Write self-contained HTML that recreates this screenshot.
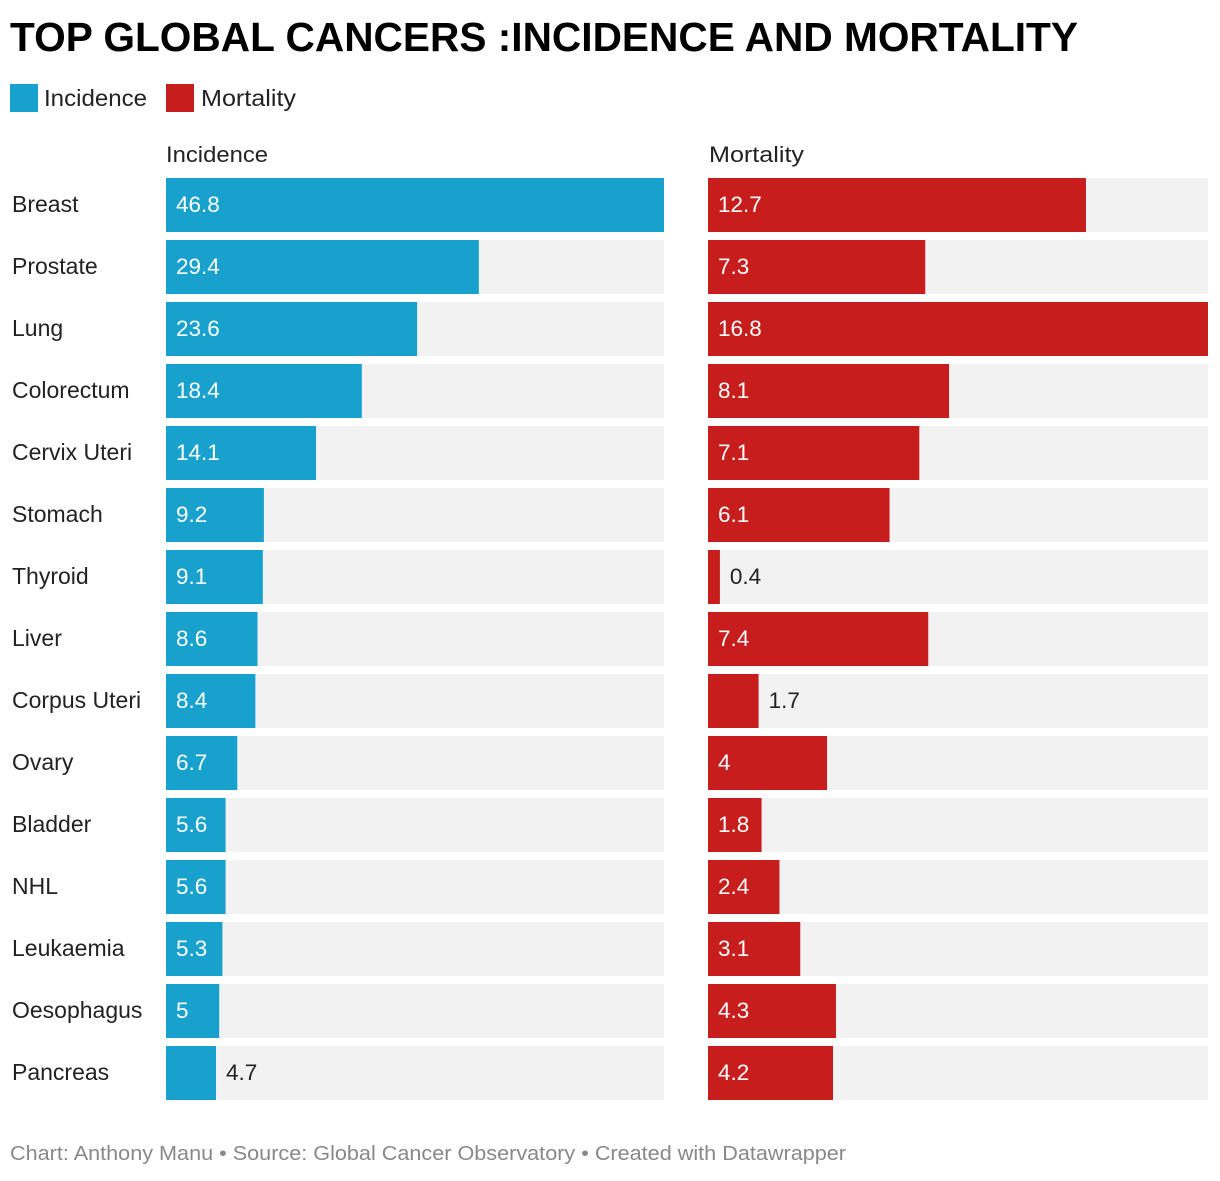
<!DOCTYPE html>
<html><head><meta charset="utf-8"><style>
body{margin:0;background:#fff;}
svg text{font-family:"Liberation Sans",sans-serif;}
</style></head><body>
<svg id="c" width="1220" height="1176" xmlns="http://www.w3.org/2000/svg">
<text x="10" y="51" font-size="41" font-weight="bold" fill="#000" textLength="1068" lengthAdjust="spacingAndGlyphs">TOP GLOBAL CANCERS :INCIDENCE AND MORTALITY</text>
<rect x="10" y="84" width="28" height="28" fill="#18a1cd"/>
<text x="44" y="106" font-size="23" fill="#222" textLength="103" lengthAdjust="spacingAndGlyphs">Incidence</text>
<rect x="166" y="84" width="28" height="28" fill="#c71e1d"/>
<text x="201" y="106" font-size="23" fill="#222" textLength="95" lengthAdjust="spacingAndGlyphs">Mortality</text>
<text x="166" y="162" font-size="22" fill="#222" textLength="102" lengthAdjust="spacingAndGlyphs">Incidence</text>
<text x="709" y="162" font-size="22" fill="#222" textLength="95" lengthAdjust="spacingAndGlyphs">Mortality</text>
<g id="rows"></g>
<text x="10" y="1160" font-size="20" fill="#888" textLength="836" lengthAdjust="spacingAndGlyphs">Chart: Anthony Manu • Source: Global Cancer Observatory • Created with Datawrapper</text>
</svg>
<script>
const categories=["Breast","Prostate","Lung","Colorectum","Cervix Uteri","Stomach","Thyroid","Liver","Corpus Uteri","Ovary","Bladder","NHL","Leukaemia","Oesophagus","Pancreas"];
const incidence=[46.8,29.4,23.6,18.4,14.1,9.2,9.1,8.6,8.4,6.7,5.6,5.6,5.3,5,4.7];
const mortality=[12.7,7.3,16.8,8.1,7.1,6.1,0.4,7.4,1.7,4,1.8,2.4,3.1,4.3,4.2];
const NS="http://www.w3.org/2000/svg";
const g=document.getElementById('rows');
function mk(t,a){const e=document.createElementNS(NS,t);for(const k in a)e.setAttribute(k,a[k]);g.appendChild(e);return e;}
const top0=178,pitch=62,bh=54;
const panels=[{x:166,w:498,vals:incidence,max:Math.max(...incidence),col:"#18a1cd",n:"incidence"},
{x:708,w:500,vals:mortality,max:Math.max(...mortality),col:"#c71e1d",n:"mortality"}];
categories.forEach((c,i)=>{
 const y=top0+i*pitch;
 const l=mk('text',{x:12,y:y+34,'font-size':23,fill:'#222'});l.textContent=c;
 
 
 panels.forEach(p=>{
  const bg=mk('rect',{x:p.x,y:y,width:p.w,height:bh,fill:'#f2f2f2'});
  
  
  const v=p.vals[i],bw=v/p.max*p.w;
  const b=mk('rect',{x:p.x,y:y,width:bw,height:bh,fill:p.col});
  
  
  const inside=bw>=52;
  const t=mk('text',{x:inside?p.x+10:p.x+bw+10,y:y+34,'font-size':22.5,fill:inside?'#fff':'#222'});
  t.textContent=String(v);
  
  
 });
});
</script>
</body></html>
